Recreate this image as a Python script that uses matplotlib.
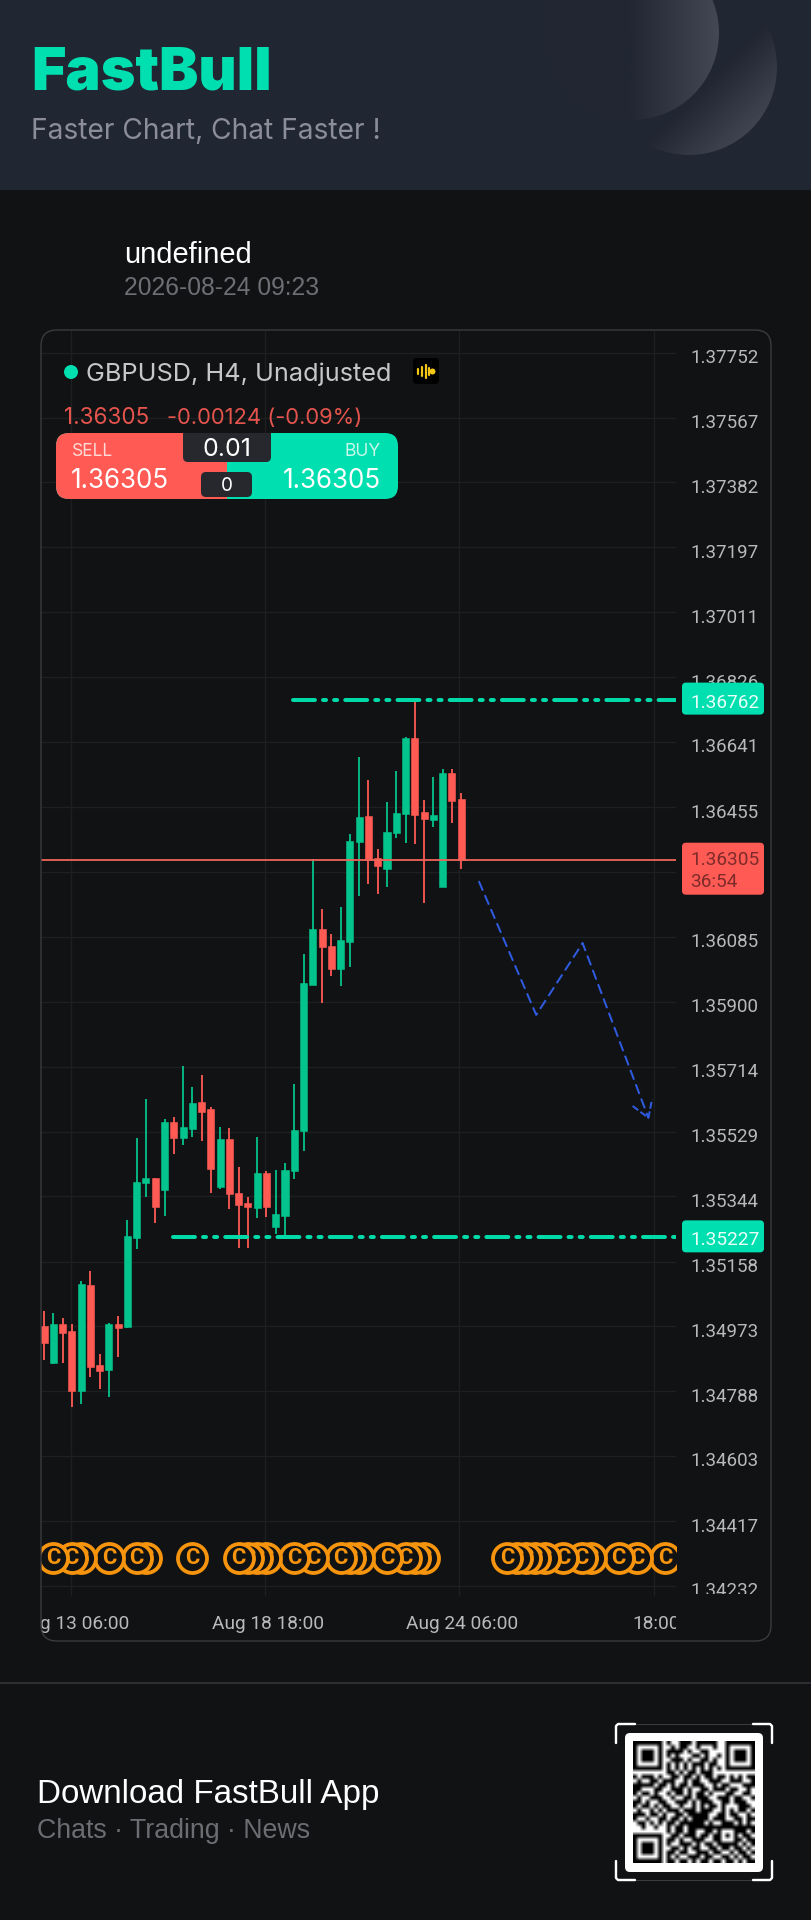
import numpy as np
import matplotlib
matplotlib.use('Agg')
import matplotlib.pyplot as plt
from matplotlib.patches import Circle, FancyBboxPatch, Rectangle
from matplotlib.transforms import Bbox, ScaledTranslation, TransformedBbox

plt.rcParams['lines.scale_dashes'] = False

# candles, prices
opens = [1.34975, 1.34867, 1.34979, 1.34960, 1.34787, 1.35091, 1.34863, 1.34848, 1.34980, 1.34971,
         1.35224, 1.35382, 1.35397, 1.35361, 1.35557, 1.35510, 1.35536, 1.35613, 1.35592, 1.35370,
         1.35507, 1.35355, 1.35324, 1.35312, 1.35411, 1.35256, 1.35288, 1.35415, 1.35531, 1.35947,
         1.36106, 1.36059, 1.35992, 1.36071, 1.36355, 1.36429, 1.36311, 1.36279, 1.36380, 1.36436,
         1.36651, 1.36440, 1.36418, 1.36226, 1.36553, 1.36479]
highs = [1.35018, 1.35010, 1.34996, 1.34980, 1.35101, 1.35132, 1.34894, 1.34983, 1.35003, 1.35277,
         1.35511, 1.35622, 1.35397, 1.35564, 1.35570, 1.35716, 1.35655, 1.35690, 1.35600, 1.35543,
         1.35538, 1.35429, 1.35343, 1.35514, 1.35415, 1.35419, 1.35438, 1.35664, 1.36036, 1.36306,
         1.36163, 1.36093, 1.36171, 1.36378, 1.36597, 1.36533, 1.36335, 1.36470, 1.36559, 1.36656,
         1.36762, 1.36476, 1.36542, 1.36563, 1.36564, 1.36495]
lows = [1.34877, 1.34866, 1.34867, 1.34742, 1.34751, 1.34827, 1.34794, 1.34772, 1.34885, 1.34969,
        1.35195, 1.35341, 1.35269, 1.35288, 1.35465, 1.35491, 1.35514, 1.35501, 1.35355, 1.35364,
        1.35308, 1.35196, 1.35196, 1.35283, 1.35284, 1.35237, 1.35228, 1.35394, 1.35474, 1.35947,
        1.35897, 1.35974, 1.35945, 1.36000, 1.36200, 1.36236, 1.36207, 1.36228, 1.36367, 1.36352,
        1.36350, 1.36182, 1.36397, 1.36226, 1.36411, 1.36278]
closes = [1.34925, 1.34980, 1.34955, 1.34787, 1.35093, 1.34856, 1.34846, 1.34980, 1.34968, 1.35230,
          1.35386, 1.35397, 1.35315, 1.35555, 1.35511, 1.35542, 1.35611, 1.35586, 1.35421, 1.35507,
          1.35350, 1.35318, 1.35314, 1.35410, 1.35315, 1.35293, 1.35418, 1.35534, 1.35952, 1.36106,
          1.36055, 1.35994, 1.36076, 1.36358, 1.36426, 1.36304, 1.36288, 1.36383, 1.36439, 1.36651,
          1.36433, 1.36422, 1.36434, 1.36552, 1.36474, 1.36305]

price_ticks = [1.37752, 1.37567, 1.37382, 1.37197, 1.37011, 1.36826, 1.36641, 1.36455, 1.36270, 1.36085,
               1.35900, 1.35714, 1.35529, 1.35344, 1.35158, 1.34973, 1.34788, 1.34603, 1.34417, 1.34232]
time_ticks = [2.88, 23.85, 44.8, 65.8]
time_labels = ['Aug 13 06:00', 'Aug 18 18:00', 'Aug 24 06:00', '18:00']

last_price = 1.36305
resistance, resistance_from = 1.36762, 26.9
support, support_from = 1.35227, 13.9
path_x = [46.9, 53.1, 58.1, 65.2]
path_y = [1.36244, 1.35862, 1.36067, 1.35568]
head_x = [63.5, 65.2, 65.6]
head_y = [1.35602, 1.35568, 1.35622]
marker_bars = [1, 3, 4, 7, 10, 11, 16, 21, 22, 23, 24, 27, 29, 32, 33, 34, 37, 39, 40, 41,
               50, 51, 52, 53, 54, 56, 58, 59, 62, 64, 67]
marker_price = 1.34312

qr_rows = [
    '1111111' '010011101111100' '1111111',
    '1000001' '001011001000100' '1000001',
    '1011101' '011110100110000' '1011101',
    '1011101' '010100011010010' '1011101',
    '1011101' '001110100110100' '1011101',
    '1000001' '010101011101100' '1000001',
    '1111111' '010101010101010' '1111111',
    '0000000' '011010110111000' '0000000',
    '10111010011011010110110101011',
    '01001101110010110011100111001',
    '11111011010110111001011000111',
    '11000110011101001101110110010',
    '10110100101101011010001100110',
    '01001110010011011100111011001',
    '11010011001110101110011011100',
    '10110101100100101011010001110',
    '01001010111011101110010101101',
    '11101101001101111100110110010',
    '10010011011010111101110011011',
    '01101010110111111010011101010',
    '00100100101101111111111111111',
    '00000000' '101101100110' '10001' '1101',
    '11111110' '011011101101' '10101' '0110',
    '10000010' '110100111001' '10001' '1011',
    '10111010' '100111010110' '11111' '0101',
    '10111010' '011010110011' '01101' '1010',
    '10111010' '110110011101' '10010' '1101',
    '10000010' '101001110110' '01101' '0110',
    '11111110' '110110101101' '10110' '1011',
]

BG = '#111214'
HEADER = '#212633'
MINT = '#00dfb0'
UP = '#03c48c'
DOWN = '#ff5a54'
GRID = '#1d1f21'
TICK = '#b8b9bb'

W, H = 812, 1920
PX_PER_PRICE = 35032


def pt(px):
    return px * 0.72


def price_y(p):
    return 742 + (1.36641 - p) * PX_PER_PRICE


def rbox(ax, x0, y0, x1, y1, r, **kw):
    box = FancyBboxPatch((x0, y0), x1 - x0, y1 - y0,
                         boxstyle='round,pad=0,rounding_size=%s' % r, **kw)
    ax.add_patch(box)
    return box


fig = plt.figure(figsize=(W / 100, H / 100), dpi=100, facecolor=BG)

# chart axes, placed so that the bars fall on the reference's pixels
left, right, top, bottom = 41, 676, 331, 1596
ax = fig.add_axes([left / W, 1 - bottom / H, (right - left) / W, (bottom - top) / H], zorder=1)
ax.set_facecolor(BG)
for s in ax.spines.values():
    s.set_visible(False)
ax.set_xlim((left - 44) / 9.27, (right - 44) / 9.27)
ax.set_ylim(1.36641 - (bottom - 742) / PX_PER_PRICE, 1.36641 + (742 - top) / PX_PER_PRICE)

ax.yaxis.tick_right()
ax.set_yticks(price_ticks, ['%.5f' % p for p in price_ticks])
ax.set_xticks(time_ticks, time_labels)
ax.tick_params(length=0, colors=TICK)
ax.tick_params(axis='y', pad=10.4, labelsize=pt(18.8))
ax.tick_params(axis='x', pad=13.7, labelsize=pt(19.2))
ax.grid(color=GRID, lw=1)
ax.set_axisbelow(True)

shift = ScaledTranslation(0, -3.5 / 100, fig.dpi_scale_trans)
x_shift = ScaledTranslation(2.5 / 100, 0, fig.dpi_scale_trans)
y_clip = TransformedBbox(Bbox([[0, (H - 1594) / H], [1, 1]]), fig.transFigure)
x_clip = TransformedBbox(Bbox([[left / W, 0], [right / W, 1]]), fig.transFigure)
for lab in ax.get_yticklabels():
    lab.set_fontfamily('Roboto')
    lab.set_transform(lab.get_transform() + shift)
    lab.set_clip_on(True)
    lab.set_clip_box(y_clip)
for lab in ax.get_xticklabels():
    lab.set_fontfamily('Roboto')
    lab.set_transform(lab.get_transform() + x_shift)
    lab.set_clip_on(True)
    lab.set_clip_box(x_clip)

bars = np.arange(len(opens))
colors = [UP if c >= o else DOWN for o, c in zip(opens, closes)]
body_low = [min(o, c) for o, c in zip(opens, closes)]
body_h = [abs(c - o) for o, c in zip(opens, closes)]
ax.vlines(bars, lows, highs, colors=colors, lw=pt(1.8), zorder=2)
ax.bar(bars, body_h, bottom=body_low, width=0.76, color=colors, edgecolor=colors, lw=0.4, zorder=3)

ax.axhline(last_price, color='#f0645a', lw=pt(1.8), zorder=4)

dash_dot = (15.8, 5.8, 2.2, 5.8, 2.2, 5.8)
for level, start in [(resistance, resistance_from), (support, support_from)]:
    ax.plot([start, ax.get_xlim()[1]], [level, level], color='#00d9a8', lw=pt(4),
            dashes=dash_dot, dash_capstyle='round', zorder=5)

ax.plot(path_x, path_y, color='#2f5be0', lw=pt(2), dashes=(7.5, 3.5), zorder=5)
ax.plot(head_x, head_y, color='#2f5be0', lw=pt(2), dashes=(5, 2), zorder=5)

# earlier markers sit on top of later ones
for i, b in enumerate(marker_bars):
    z = 20 + 2 * (len(marker_bars) - i)
    ax.scatter([b], [marker_price], s=pt(29) ** 2, facecolor=BG, edgecolor='#f7940d',
               linewidths=pt(3.8), zorder=z)
    ax.text(b, marker_price, 'C', color='#f7940d', fontsize=pt(22), fontfamily='Roboto',
            fontweight='bold', ha='center', va='center', zorder=z + 1, clip_on=True)

# everything around the chart, in pixel coordinates
ov = fig.add_axes([0, 0, 1, 1], zorder=2)
ov.set_xlim(0, W)
ov.set_ylim(H, 0)
ov.axis('off')
ov.patch.set_visible(False)

ov.add_patch(Rectangle((0, 0), W, 190, color=HEADER, lw=0, zorder=0))


def glow(cx, cy, r, rgba):
    im = ov.imshow(rgba, extent=(cx - r, cx + r, cy + r, cy - r), aspect='auto', zorder=1,
                   interpolation='bilinear')
    im.set_clip_path(Circle((cx, cy), r, transform=ov.transData))


n = 160
hdr = np.array(matplotlib.colors.to_rgb(HEADER))
lit = np.array([0.8, 0.81, 0.86])
cx, cy, r = 689, 67, 88
xx, yy = np.meshgrid(np.linspace(cx - r, cx + r, n), np.linspace(cy - r, cy + r, n))
a = np.clip((xx + yy - 790) / 100, 0, 1) * 0.2
glow(cx, cy, r, np.dstack([np.broadcast_to(lit, (n, n, 3)), a]))
cx, cy, r = 632, 33, 87
xx, yy = np.meshgrid(np.linspace(cx - r, cx + r, n), np.linspace(cy - r, cy + r, n))
a = (np.clip((xx - 628) / 90, 0, 1) * 0.2)[..., None]
glow(cx, cy, r, np.dstack([hdr * (1 - a) + lit * a, np.ones((n, n))]))

ov.text(31, 74, 'FastBull', color=MINT, fontsize=pt(59), fontfamily='Inter', fontweight=900,
        ha='left', va='center')
ov.text(31, 131, 'Faster Chart, Chat Faster !', color='#8b8d98', fontsize=pt(28.2), fontfamily='Inter',
        ha='left', va='center')
ov.text(124, 255, 'undefined', color='white', fontsize=pt(29), fontfamily='Liberation Sans',
        ha='left', va='center')
ov.text(124, 288, '2026-08-24 09:23', color='#6d6f75', fontsize=pt(24.6), fontfamily='Liberation Sans',
        ha='left', va='center')

rbox(ov, 41, 330, 771, 1641, 16, fc='none', ec='#393b3f', lw=pt(1.4), zorder=1)

# legend block
ov.add_patch(Circle((71, 372), 7, color=MINT, lw=0))
ov.text(86, 374, 'GBPUSD, H4, Unadjusted', color='#c6c7c9', fontsize=pt(25.3), fontfamily='Inter',
        ha='left', va='center')
rbox(ov, 413, 358, 439, 384, 4, fc='black', ec='none')
for x, half in [(417.7, 2.5), (421.7, 4.5), (425.7, 6.5), (429, 3.5)]:
    ov.plot([x, x], [371 - half, 371 + half], color='#f5c518', lw=pt(2.2), solid_capstyle='round')
ov.add_patch(Circle((432.5, 371.5), 3, color='#f5c518', lw=0))

ov.text(64, 418, '1.36305', color='#e4544d', fontsize=pt(22.5), fontfamily='Inter', ha='left', va='center')
ov.text(167, 418, '-0.00124 (-0.09%)', color='#e4544d', fontsize=pt(22), fontfamily='Inter',
        ha='left', va='center')

rbox(ov, 56, 433, 398, 499, 13, fc=MINT, ec='none', zorder=2)
red = rbox(ov, 56, 433, 398, 499, 13, fc=DOWN, ec='none', zorder=2)
red.set_clip_path(Rectangle((56, 433), 171, 66, transform=ov.transData))
tab = rbox(ov, 183, 420, 271, 462, 5, fc='#26282e', ec='none', zorder=3)
tab.set_clip_path(Rectangle((183, 433), 88, 29, transform=ov.transData))
rbox(ov, 201, 472, 252, 497, 5, fc='#26282e', ec='none', zorder=3)
ov.text(227, 450, '0.01', color='white', fontsize=pt(25), fontfamily='Inter', ha='center', va='center', zorder=4)
ov.text(227, 486, '0', color='white', fontsize=pt(19), fontfamily='Inter', ha='center', va='center', zorder=4)
ov.text(72, 451, 'SELL', color='#ffd9d6', fontsize=pt(17.5), fontfamily='Inter', ha='left', va='center', zorder=4)
ov.text(381, 451, 'BUY', color='#c9f7ea', fontsize=pt(17.5), fontfamily='Inter', ha='right', va='center', zorder=4)
ov.text(71, 481, '1.36305', color='white', fontsize=pt(26), fontfamily='Inter', ha='left', va='center', zorder=4)
ov.text(381, 481, '1.36305', color='white', fontsize=pt(26), fontfamily='Inter', ha='right', va='center', zorder=4)

# price tags on the right edge
y = price_y(resistance)
rbox(ov, 682, y - 17, 764, y + 15, 4, fc=MINT, ec='none', zorder=3)
ov.text(690, y + 3, '%.5f' % resistance, color='#e9fff9', fontsize=pt(19), fontfamily='Roboto',
        ha='left', va='center', zorder=4)
y = price_y(support)
rbox(ov, 682, y - 17, 764, y + 15, 4, fc=MINT, ec='none', zorder=3)
ov.text(690, y + 3, '%.5f' % support, color='#e9fff9', fontsize=pt(19), fontfamily='Roboto',
        ha='left', va='center', zorder=4)
y = price_y(last_price)
rbox(ov, 682, y - 17, 764, y + 35, 4, fc=DOWN, ec='none', zorder=3)
ov.text(690, y + 0, '%.5f' % last_price, color='#7d2a2a', fontsize=pt(19), fontfamily='Roboto',
        ha='left', va='center', zorder=4)
ov.text(690, y + 22, '36:54', color='#7d2a2a', fontsize=pt(19), fontfamily='Roboto',
        ha='left', va='center', zorder=4)

# footer
ov.plot([0, W], [1683, 1683], color='#2c2e31', lw=pt(2))
ov.text(37.5, 1794, 'Download FastBull App', color='white', fontsize=pt(33.2), fontfamily='Liberation Sans',
        ha='left', va='center')
ov.text(37, 1831, 'Chats · Trading · News', color='#6b6d72', fontsize=pt(26.8), fontfamily='Liberation Sans',
        ha='left', va='center')

rbox(ov, 625, 1733, 763, 1872, 5, fc='white', ec='none', zorder=2)
qr = np.array([[1 - int(c) for c in row] for row in qr_rows], dtype=float)
ov.imshow(qr, cmap='gray', vmin=0, vmax=1, extent=(633, 755, 1863, 1741), aspect='auto', zorder=3,
          interpolation='bilinear')
corner = dict(color='white', lw=pt(2.4), solid_capstyle='round', solid_joinstyle='round')
ov.plot([635, 618, 616, 616], [1724, 1724, 1726, 1743], **corner)
ov.plot([753, 770, 772, 772], [1724, 1724, 1726, 1743], **corner)
ov.plot([635, 618, 616, 616], [1880, 1880, 1878, 1861], **corner)
ov.plot([753, 770, 772, 772], [1880, 1880, 1878, 1861], **corner)
ov.plot([635, 753], [1724, 1724], color='#3a3c40', lw=pt(1), zorder=1)
ov.plot([635, 753], [1880, 1880], color='#3a3c40', lw=pt(1), zorder=1)
ov.set_xlim(0, W)
ov.set_ylim(H, 0)

fig.savefig('out.png', dpi=100, facecolor=BG)
